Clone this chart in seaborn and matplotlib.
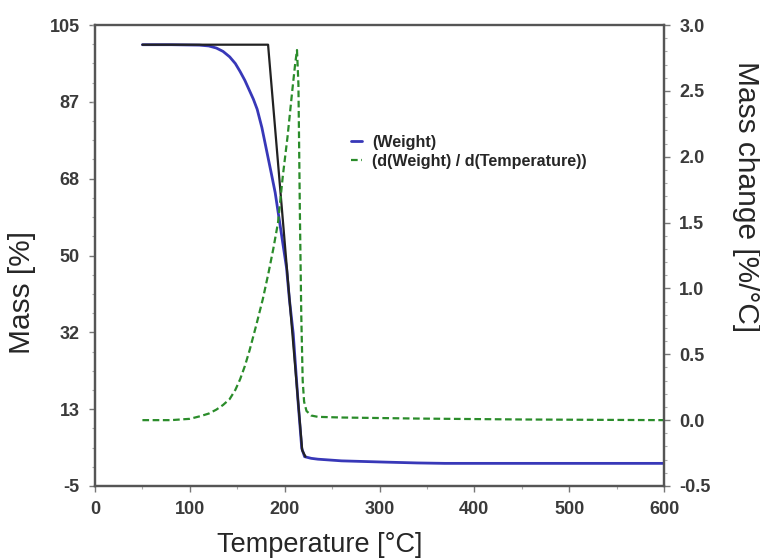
import matplotlib
matplotlib.use("Agg")
import matplotlib.pyplot as plt
import pandas as pd
import seaborn as sns
from matplotlib.ticker import FixedLocator, MultipleLocator, AutoMinorLocator

# TGA weight curve (left axis, %)
temp_weight = [50, 80, 110, 120, 128, 135, 142, 148, 153, 158, 162, 167, 171, 176, 181,
               186, 190, 193, 196, 202, 205, 209, 214, 218, 221, 228, 235, 260, 306, 340,
               369, 400, 500, 600]
weight_pct = [100.3, 100.3, 100.2, 100.0, 99.5, 98.7, 97.4, 95.8, 93.9, 91.8, 89.8, 87.3,
              84.9, 80.5, 75.0, 69.5, 65.0, 60.5, 56.0, 47.0, 39.5, 31.4, 15.5, 4.0, 2.0,
              1.6, 1.4, 1.0, 0.7, 0.5, 0.4, 0.4, 0.4, 0.4]

# reference step trace (left axis, %)
temp_step = [50, 182.5, 218.5, 222]
step_pct = [100.3, 100.3, 3.5, 2.0]

# derivative curve (right axis, %/°C)
temp_deriv = [50, 80, 100, 111, 120, 128, 135, 142, 148, 153, 158, 163, 170, 177, 183,
              188, 193, 198, 203, 208, 211, 213, 214.5, 216, 217.5, 219, 220.5, 223, 228,
              235, 260, 340, 450, 600]
deriv_val = [0.0, 0.0, 0.01, 0.03, 0.05, 0.08, 0.115, 0.16, 0.23, 0.31, 0.41, 0.53, 0.72,
             0.92, 1.12, 1.30, 1.50, 1.85, 2.15, 2.50, 2.70, 2.81, 2.55, 1.60, 0.80, 0.30,
             0.14, 0.07, 0.035, 0.025, 0.02, 0.012, 0.005, 0.0]

x_ticks = [0, 100, 200, 300, 400, 500, 600]
mass_ticks = [-5, 13.333, 31.667, 50, 68.333, 86.667, 105]
mass_tick_labels = ["-5", "13", "32", "50", "68", "87", "105"]
rate_ticks = [-0.5, 0.0, 0.5, 1.0, 1.5, 2.0, 2.5, 3.0]
rate_tick_labels = ["-0.5", "0.0", "0.5", "1.0", "1.5", "2.0", "2.5", "3.0"]

weight_label = "(Weight)"
deriv_label = "(d(Weight) / d(Temperature))"

sns.set_style("ticks")
plt.rcParams["font.family"] = ["Liberation Sans", "DejaVu Sans"]

W, H = 760, 560
fig = plt.figure(figsize=(W / 100, H / 100), dpi=100)
left, right, top, bottom = 95, 664, 25, 486
ax = fig.add_axes([left / W, 1 - bottom / H, (right - left) / W, (bottom - top) / H])
ax2 = ax.twinx()

df_w = pd.DataFrame({"T": temp_weight, "m": weight_pct})
df_s = pd.DataFrame({"T": temp_step, "m": step_pct})
df_d = pd.DataFrame({"T": temp_deriv, "d": deriv_val})

sns.lineplot(data=df_w, x="T", y="m", ax=ax, color="#3838b8", linewidth=2.0,
             label=weight_label, zorder=3)
sns.lineplot(data=df_s, x="T", y="m", ax=ax, color="#222222", linewidth=1.6, zorder=4)
sns.lineplot(data=df_d, x="T", y="d", ax=ax2, color="#2a8c2a", linewidth=1.6,
             linestyle=(0, (3, 1.6)), label=deriv_label)

for a in (ax, ax2):
    if a.get_legend() is not None:
        a.get_legend().remove()

ax.set_xlim(0, 600)
ax.set_ylim(-5, 105)
ax2.set_ylim(-0.5, 3.0)

ax.xaxis.set_major_locator(FixedLocator(x_ticks))
ax.xaxis.set_minor_locator(MultipleLocator(50))
ax.yaxis.set_major_locator(FixedLocator(mass_ticks))
ax.set_yticklabels(mass_tick_labels)
ax.yaxis.set_minor_locator(AutoMinorLocator(4))
ax2.yaxis.set_major_locator(FixedLocator(rate_ticks))
ax2.set_yticklabels(rate_tick_labels)
ax2.yaxis.set_minor_locator(AutoMinorLocator(5))

tick_color = "#3a3a3a"
for a in (ax, ax2):
    a.tick_params(which="major", length=4, width=1, color="#777777", pad=7,
                  labelsize=13, labelcolor=tick_color)
    a.tick_params(which="minor", length=2.5, width=0.8, color="#aaaaaa")
    for lbl in a.get_xticklabels() + a.get_yticklabels():
        lbl.set_fontweight("bold")
    for sp in a.spines.values():
        sp.set_visible(True)
        sp.set_color("#555555")
        sp.set_linewidth(1.6)
ax.spines["top"].set_color("#8a8a8a")

ax.set_xlabel("Temperature [°C]", fontsize=19.5, va="center", ha="center")
ax.xaxis.set_label_coords((320 - left) / (right - left), -(545 - bottom) / (bottom - top))
ax.set_ylabel("Mass [%]", fontsize=21.5, va="center", ha="center")
ax.yaxis.set_label_coords((22 - left) / (right - left), (bottom - 292) / (bottom - top))
ax2.set_ylabel("Mass change [%/°C]", fontsize=21.5, rotation=270, va="center", ha="center")
ax2.yaxis.set_label_coords((746 - left) / (right - left), (bottom - 197) / (bottom - top))

h1, l1 = ax.get_legend_handles_labels()
h2, l2 = ax2.get_legend_handles_labels()
ax2.legend(h1[:1] + h2[:1], l1[:1] + l2[:1], loc="upper left",
           bbox_to_anchor=(351 / W, 1 - 135 / H), bbox_transform=fig.transFigure,
           frameon=False, prop={"weight": "bold", "size": 11.6}, handlelength=0.7,
           handletextpad=0.6, labelspacing=0.22, borderpad=0, borderaxespad=0)

fig.savefig("out.png", dpi=100)
